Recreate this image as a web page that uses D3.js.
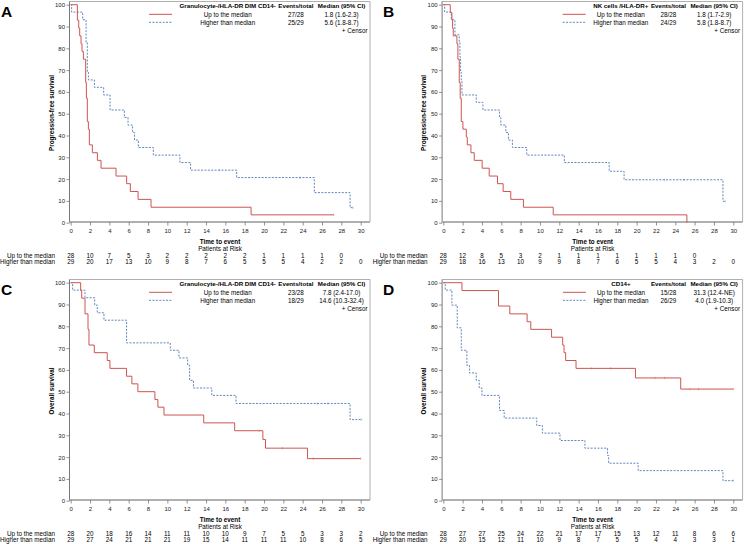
<!DOCTYPE html>
<html><head><meta charset="utf-8">
<script src="https://cdn.jsdelivr.net/npm/d3@7"></script>
<style>
html,body{margin:0;padding:0;background:#fff;}
svg text{font-family:"Liberation Sans",Arial,sans-serif;}
</style></head>
<body>
<svg id="chart" width="744" height="544"></svg>
<script>
// ---------- DATA ----------
const xTicks = [0,2,4,6,8,10,12,14,16,18,20,22,24,26,28,30];
const yTicks = [0,10,20,30,40,50,60,70,80,90,100];
const groupLabels = ["Up to the median","Higher than median"];

// Panel A (PFS, Granulocyte-/HLA-DR DIM CD14-)
const A_up_t = [0.69,0.83,0.93,1.07,1.17,1.31,1.55,1.62,1.72,1.83,1.93,2.24,2.76,3.14,4.69,5.79,6.17,6.97,8.31,18.66];
const A_up_s = [92.9,89.3,85.7,82.1,78.6,75.0,64.3,57.1,46.4,42.9,35.7,32.1,28.6,25.0,21.4,17.9,14.3,10.7,7.1,3.6];
const A_up_end = 27.2, A_up_cens = [27.2];
const A_hi_t = [0.1,1.24,1.59,1.72,1.83,2.45,3.41,4.07,5.55,5.93,6.4,6.6,7.0,8.55,11.3,12.4,17.17,25.2,28.9];
const A_hi_s = [96.6,93.1,82.8,69.0,65.5,62.1,58.6,51.7,48.3,44.8,41.4,37.9,34.5,31.0,27.6,24.1,20.7,13.8,6.9];
const A_hi_end = 29.2, A_hi_cens = [15.4,23.7,29.2];
const A_riskUp = [28,10,7,5,3,2,2,2,2,2,1,1,1,1,0];
const A_riskHi = [29,20,17,13,10,9,8,7,6,5,5,5,4,2,2,0];

// Panel B (PFS, NK cells /HLA-DR+)
const B_up_t = [0.72,0.89,0.96,1.03,1.41,1.51,1.65,1.75,1.86,2.03,2.38,2.48,2.86,3.2,4.02,4.75,5.61,6.19,6.98,8.29,11.37,25.2];
const B_up_s = [96.4,92.9,89.3,85.7,82.1,75.0,64.3,57.1,46.4,42.9,39.3,35.7,32.1,28.6,25.0,21.4,17.9,14.3,10.7,7.1,3.6,0];
const B_up_end = 25.2, B_up_cens = [];
const B_hi_t = [0.14,0.83,1.2,1.65,1.72,1.79,1.86,1.93,3.41,4.1,5.82,5.95,6.47,6.74,7.15,8.63,12.52,17.16,18.7,28.93];
const B_hi_s = [96.6,93.1,86.2,82.8,75.9,69.0,65.5,58.6,55.2,51.7,48.3,44.8,41.4,37.9,34.5,31.0,27.6,23.6,19.7,9.8];
const B_hi_end = 29.17, B_hi_cens = [22.9,24.9,29.17];
const B_riskUp = [28,12,8,5,3,2,1,1,1,1,1,1,1,0];
const B_riskHi = [29,18,16,13,10,9,9,8,7,6,5,5,4,3,2,0];

// Panel C (OS, Granulocyte-/HLA-DR DIM CD14-)
const C_up_t = [1.03,1.14,1.48,1.79,1.89,2.44,3.78,4.06,5.78,6.33,6.95,8.71,9.02,9.65,13.76,16.96,19.88,20.15,24.5];
const C_up_s = [96.4,92.9,85.7,78.6,71.4,67.9,64.3,60.7,57.1,53.6,50.0,46.4,42.9,39.3,35.7,32.1,28.1,24.1,19.3];
const C_up_end = 30, C_up_cens = [19.5,21.9,25.1,30];
const C_hi_t = [0.2,1.48,2.48,2.75,3.44,5.78,10.3,11.2,12.1,12.3,12.7,14.6,17.1,28.9];
const C_hi_s = [96.6,93.1,89.7,86.2,82.8,72.4,69.0,65.5,62.1,55.2,51.7,48.3,44.6,37.2];
const C_hi_end = 30.1, C_hi_cens = [25.5,26.6,30.1];
const C_riskUp = [28,20,18,16,14,11,11,10,10,9,7,5,5,3,3,2];
const C_riskHi = [29,27,24,21,21,21,19,15,14,11,11,11,10,8,6,5];

// Panel D (OS, CD14+)
const D_up_t = [1.93,5.71,6.88,8.67,9.05,11.2,12.35,12.49,12.66,13.73,19.88,24.56];
const D_up_s = [96.4,89.3,85.7,82.1,78.6,75.0,71.4,67.9,64.3,60.7,56.3,51.2];
const D_up_end = 30, D_up_cens = [15.35,17.3,21.9,22.9,25.5,26.4,30];
const D_hi_t = [0.2,0.89,1.44,1.86,2.44,2.72,3.41,3.72,4.0,5.81,6.3,9.67,10.25,12.07,14.65,16.99,17.1,20.16,28.93];
const D_hi_s = [96.6,89.7,79.3,69.0,62.1,58.6,55.2,51.7,48.3,41.4,37.9,34.5,31.0,27.6,24.1,20.7,17.2,13.8,9.2];
const D_hi_end = 30, D_hi_cens = [30];
const D_riskUp = [28,27,27,25,24,22,21,17,17,15,13,12,11,8,6,6];
const D_riskHi = [29,20,15,12,11,10,9,8,7,5,5,4,4,3,3,1];

const panelLetters = ["A","B","C","D"];
const yTitles = ["Progression-free survival","Progression-free survival","Overall survival","Overall survival"];
const legendHeaders = ["Granulocyte-/HLA-DR DIM CD14-","NK cells /HLA-DR+","Granulocyte-/HLA-DR DIM CD14-","CD14+"];
const eventsUp = ["27/28","28/28","23/28","15/28"];
const eventsHi = ["25/29","24/29","18/29","26/29"];
const medianUp = ["1.8 (1.6-2.3)","1.8 (1.7-2.9)","7.8 (2.4-17.0)","31.3 (12.4-NE)"];
const medianHi = ["5.6 (1.8-8.7)","5.8 (1.8-8.7)","14.6 (10.3-32.4)","4.0 (1.9-10.3)"];

// ---------- BUILD ----------
const panels = [
  {up:{t:A_up_t,s:A_up_s,end:A_up_end,c:A_up_cens}, hi:{t:A_hi_t,s:A_hi_s,end:A_hi_end,c:A_hi_cens}, rU:A_riskUp, rH:A_riskHi},
  {up:{t:B_up_t,s:B_up_s,end:B_up_end,c:B_up_cens}, hi:{t:B_hi_t,s:B_hi_s,end:B_hi_end,c:B_hi_cens}, rU:B_riskUp, rH:B_riskHi},
  {up:{t:C_up_t,s:C_up_s,end:C_up_end,c:C_up_cens}, hi:{t:C_hi_t,s:C_hi_s,end:C_hi_end,c:C_hi_cens}, rU:C_riskUp, rH:C_riskHi},
  {up:{t:D_up_t,s:D_up_s,end:D_up_end,c:D_up_cens}, hi:{t:D_hi_t,s:D_hi_s,end:D_hi_end,c:D_hi_cens}, rU:D_riskUp, rH:D_riskHi}
];
const offsets = [[0,0],[372.6,0],[0,278],[372.6,278]];
const letterX = [1,383-372.6,1,383-372.6];
const RED = "#cc5550", BLUE = "#4f78b4", FRAME = "#9a9a9a";
const FS = 6.3, LFS = 6.2;

const svg = d3.select("#chart");
const x = d3.scaleLinear().domain([0,30]).range([70.7,360.7]);
const y = d3.scaleLinear().domain([0,100]).range([222.7,4.7]);

function survPoints(g){
  const pts = [[0,100]];
  g.t.forEach((t,i)=>pts.push([t,g.s[i]]));
  pts.push([g.end, g.s[g.s.length-1]]);
  return pts;
}
function survAt(g, t){
  let s = 100;
  g.t.forEach((tt,i)=>{ if (tt<=t) s = g.s[i]; });
  return s;
}
const line = d3.line().x(d=>x(d[0])).y(d=>y(d[1])).curve(d3.curveStepAfter);

panels.forEach((p,i)=>{
  const g = svg.append("g").attr("transform",`translate(${offsets[i][0]},${offsets[i][1]})`);

  g.append("text").attr("x",letterX[i]).attr("y",17).attr("font-size",15.5).attr("font-weight","bold").text(panelLetters[i]);

  g.append("line").attr("x1",69.5).attr("x2",370).attr("y1",1.5).attr("y2",1.5).attr("stroke",FRAME).attr("stroke-width",0.8);
  g.append("line").attr("x1",370).attr("x2",370).attr("y1",1.5).attr("y2",222).attr("stroke",FRAME).attr("stroke-width",0.8);

  const ya = g.append("g").attr("transform","translate(69.5,0)")
    .call(d3.axisLeft(y).tickValues(yTicks).tickSize(3).tickPadding(1.5));
  ya.select(".domain").attr("stroke","#777").attr("d","M0,1.5V223");
  ya.selectAll(".tick line").attr("stroke","#777").attr("stroke-width",0.8);
  ya.selectAll("text").attr("font-size",6).attr("fill","#222").attr("font-family","Liberation Sans, Arial, sans-serif");

  const xa = g.append("g").attr("transform","translate(0,222)")
    .call(d3.axisBottom(x).tickValues(xTicks).tickSize(3.5).tickPadding(3));
  xa.select(".domain").attr("stroke","#b0b0b0").attr("stroke-width",2).attr("d","M69.5,0H370");
  xa.selectAll(".tick line").attr("stroke","#777").attr("stroke-width",0.8);
  xa.selectAll("text").attr("font-size",6).attr("fill","#222").attr("font-family","Liberation Sans, Arial, sans-serif");

  g.append("text").attr("transform","translate(53.8,113) rotate(-90)").attr("text-anchor","middle")
    .attr("font-size",FS).attr("font-weight","bold").text(yTitles[i]);

  g.append("path").attr("d",line(survPoints(p.hi))).attr("fill","none").attr("stroke",BLUE)
    .attr("stroke-width",0.9).attr("stroke-dasharray","2,1.4");
  g.append("path").attr("d",line(survPoints(p.up))).attr("fill","none").attr("stroke",RED).attr("stroke-width",1);

  [[p.hi,BLUE],[p.up,RED]].forEach(([grp,col])=>{
    g.selectAll(null).data(grp.c).enter().append("line")
      .attr("x1",d=>x(d)).attr("x2",d=>x(d))
      .attr("y1",d=>y(survAt(grp,d))-1.2).attr("y2",d=>y(survAt(grp,d))+1.2)
      .attr("stroke",col).attr("stroke-width",0.5).attr("stroke-opacity",0.8);
  });

  // legend
  const hdr = g.append("text").attr("x",275.8).attr("y",7.9).attr("text-anchor","end").attr("font-size",LFS).attr("font-weight","bold").text(legendHeaders[i]);
  const evH = g.append("text").attr("x",313.4).attr("y",7.9).attr("text-anchor","end").attr("font-size",LFS).attr("font-weight","bold").text("Events/total");
  const mdH = g.append("text").attr("x",365.3).attr("y",7.9).attr("text-anchor","end").attr("font-size",LFS).attr("font-weight","bold").text("Median (95% CI)");
  const tmp1 = g.append("text").attr("font-size",FS).text(groupLabels[0]);
  const tmp2 = g.append("text").attr("font-size",FS).text(groupLabels[1]);
  const w1 = Math.max(hdr.node().getComputedTextLength(), tmp1.node().getComputedTextLength(), tmp2.node().getComputedTextLength());
  tmp1.remove(); tmp2.remove();
  const colRight = 275.8, colLeft = colRight - w1, colC = colRight - w1/2;
  hdr.attr("x",colC).attr("text-anchor","middle");
  const evC = 313.4 - evH.node().getComputedTextLength()/2;
  const mdC = 365.3 - mdH.node().getComputedTextLength()/2;
  const rowsY = [16.5,24.5];
  const rowData = [[groupLabels[0],eventsUp[i],medianUp[i]],[groupLabels[1],eventsHi[i],medianHi[i]]];
  rowData.forEach((r,k)=>{
    g.append("line").attr("x1",colLeft-30.5).attr("x2",colLeft-7.5).attr("y1",rowsY[k]-2.2).attr("y2",rowsY[k]-2.2)
      .attr("stroke",k===0?RED:BLUE).attr("stroke-width",k===0?1:0.9).attr("stroke-dasharray",k===0?null:"2,1.4");
    g.append("text").attr("x",colC).attr("y",rowsY[k]).attr("text-anchor","middle").attr("font-size",FS).text(r[0]);
    g.append("text").attr("x",evC).attr("y",rowsY[k]).attr("text-anchor","middle").attr("font-size",FS).text(r[1]);
    g.append("text").attr("x",mdC).attr("y",rowsY[k]).attr("text-anchor","middle").attr("font-size",FS).text(r[2]);
  });
  g.append("text").attr("x",367.5).attr("y",32.9).attr("text-anchor","end").attr("font-size",FS).text("+  Censor");

  g.append("text").attr("x",220).attr("y",243.9).attr("text-anchor","middle").attr("font-size",FS).attr("font-weight","bold").text("Time to event");
  g.append("text").attr("x",220).attr("y",251.2).attr("text-anchor","middle").attr("font-size",FS).text("Patients at Risk");
  g.append("text").attr("x",55).attr("y",257.9).attr("text-anchor","end").attr("font-size",FS).text(groupLabels[0]);
  g.append("text").attr("x",55).attr("y",263.6).attr("text-anchor","end").attr("font-size",FS).text(groupLabels[1]);
  g.selectAll(null).data(p.rU).enter().append("text").attr("x",(d,j)=>x(xTicks[j])).attr("y",257.9)
    .attr("text-anchor","middle").attr("font-size",FS).text(d=>d);
  g.selectAll(null).data(p.rH).enter().append("text").attr("x",(d,j)=>x(xTicks[j])).attr("y",263.6)
    .attr("text-anchor","middle").attr("font-size",FS).text(d=>d);
});
</script>
</body></html>
